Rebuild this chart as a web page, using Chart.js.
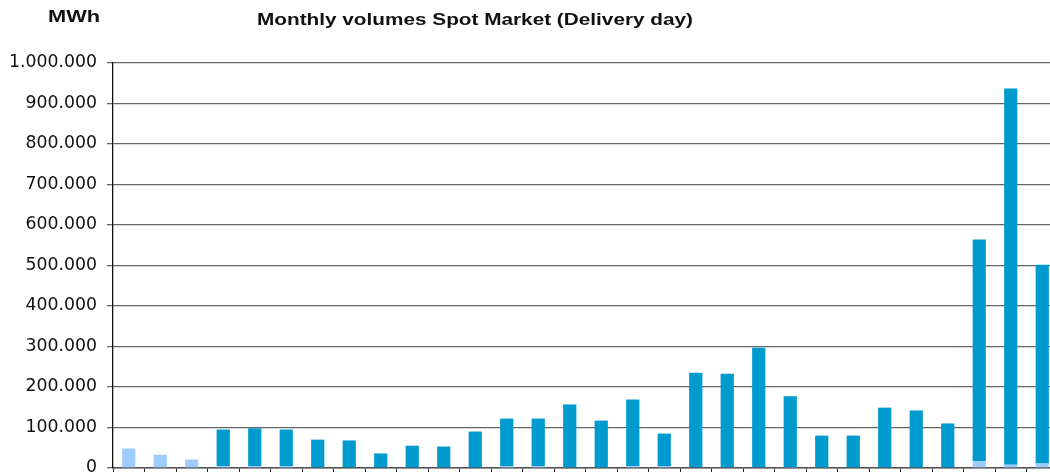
<!DOCTYPE html>
<html lang="en">
<head>
    <meta charset="UTF-8">
    <title>Monthly volumes Spot Market</title>
    <script src="https://cdn.jsdelivr.net/npm/chart.js"></script>
    <style>
        html, body { margin: 0; padding: 0; overflow: hidden; background: #fff; }
        .wrap { position: relative; width: 1059px; height: 508px; }
    </style>
</head>
<body>
    <div class="wrap"><canvas id="spotChart"></canvas></div>
    <script>
        // months (labels fall below the visible area)
        const months = ['Jan','Feb','Mar','Apr','May','Jun','Jul','Aug','Sep','Oct','Nov','Dec',
                        'Jan','Feb','Mar','Apr','May','Jun','Jul','Aug','Sep','Oct','Nov','Dec',
                        'Jan','Feb','Mar','Apr','May','Jun'];
        // MWh, light series at the bottom of each stack
        const lightVolumes = [48000, 33000, 21000, 5000, 5000, 5000, 0, 0, 0, 0, 0, 0,
                              5000, 5000, 0, 0, 5000, 5000, 0, 0, 0, 2000, 0, 0,
                              0, 0, 0, 17000, 8000, 11000];
        const darkVolumes = [0, 0, 0, 90000, 93000, 90000, 70000, 68000, 36000, 55000, 53000, 90000,
                             117000, 117000, 157000, 117000, 164000, 80000, 235000, 233000, 297000, 175000, 80000, 80000,
                             149000, 142000, 110000, 547000, 929000, 491000];
        const yTicks = [0, 100000, 200000, 300000, 400000, 500000, 600000, 700000, 800000, 900000, 1000000];

        function fmt(v) {
            return String(v).replace(/\B(?=(\d{3})+(?!\d))/g, '.');
        }

        // header texts
        const headerText = {
            id: 'headerText',
            afterDraw(chart) {
                const ctx = chart.ctx;
                ctx.save();
                ctx.fillStyle = '#111';
                ctx.textBaseline = 'middle';
                ctx.font = 'bold 16px "Liberation Sans", Arial, sans-serif';
                drawFit(ctx, 'MWh', 48, 18, 52);
                drawFit(ctx, 'Monthly volumes Spot Market (Delivery day)', 257, 21, 436);
                ctx.restore();
            }
        };
        function drawFit(ctx, txt, x, y, w) {
            const m = ctx.measureText(txt).width;
            ctx.save();
            ctx.translate(x, y);
            ctx.scale(w / m, 1);
            ctx.fillText(txt, 0, 0);
            ctx.restore();
        }

        new Chart(document.getElementById('spotChart'), {
            type: 'bar',
            data: {
                labels: months,
                datasets: [
                    { label: 'Light', data: lightVolumes, backgroundColor: '#9FCCFF', stack: 's' },
                    { label: 'Dark', data: darkVolumes, backgroundColor: '#009BCE', stack: 's' }
                ]
            },
            options: {
                responsive: true,
                maintainAspectRatio: false,
                animation: false,
                layout: { padding: { top: 63, left: 8, right: 1, bottom: 0 } },
                datasets: { bar: { categoryPercentage: 1, barPercentage: 0.42 } },
                plugins: { legend: { display: false }, tooltip: { enabled: false } },
                scales: {
                    x: {
                        stacked: true,
                        afterFit: s => { s.height = 40; },
                        grid: { offset: true, drawOnChartArea: false, color: '#222', tickLength: 8 },
                        border: { color: '#555', width: 1.5 },
                        ticks: { color: '#111', font: { size: 12 } }
                    },
                    y: {
                        stacked: true,
                        min: 0,
                        max: 1000000,
                        afterFit: s => { s.width = 105; },
                        afterBuildTicks: s => { s.ticks = yTicks.map(v => ({ value: v })); },
                        grid: { color: '#666', lineWidth: 1.3, tickLength: 6 },
                        border: { color: '#111', width: 1.3 },
                        ticks: {
                            color: '#111',
                            padding: 10,
                            font: { family: '"DejaVu Sans", sans-serif', size: 17.3 },
                            callback: v => fmt(v)
                        }
                    }
                }
            },
            plugins: [headerText]
        });
    </script>
</body>
</html>
